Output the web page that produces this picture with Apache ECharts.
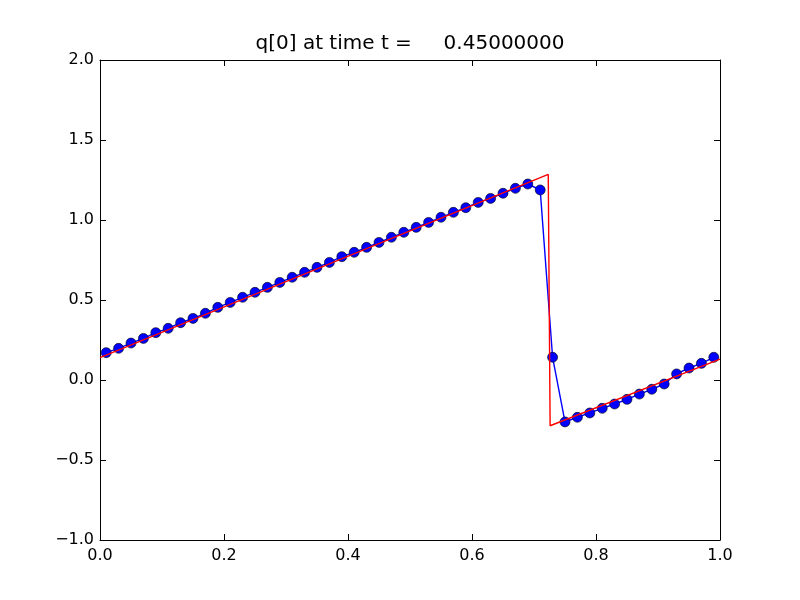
<!DOCTYPE html>
<html>
<head>
<meta charset="utf-8">
<script src="https://cdn.jsdelivr.net/npm/echarts@6/dist/echarts.min.js"></script>
<style>
  html, body { margin: 0; padding: 0; background: #fff; }
  #main { width: 800px; height: 600px; }
</style>
</head>
<body>
<div id="main"></div>
<script>
// numerical solution (cell centres)
var xs = [0.01, 0.03, 0.05, 0.07, 0.09, 0.11, 0.13, 0.15, 0.17, 0.19,
          0.21, 0.23, 0.25, 0.27, 0.29, 0.31, 0.33, 0.35, 0.37, 0.39,
          0.41, 0.43, 0.45, 0.47, 0.49, 0.51, 0.53, 0.55, 0.57, 0.59,
          0.61, 0.63, 0.65, 0.67, 0.69, 0.71, 0.73, 0.75, 0.77, 0.79,
          0.81, 0.83, 0.85, 0.87, 0.89, 0.91, 0.93, 0.95, 0.97, 0.99];
var qs = [0.171, 0.198, 0.231, 0.260, 0.296, 0.323, 0.358, 0.385, 0.417, 0.454,
          0.485, 0.517, 0.548, 0.579, 0.610, 0.642, 0.673, 0.704, 0.735, 0.771,
          0.798, 0.829, 0.860, 0.892, 0.923, 0.954, 0.985, 1.017, 1.048, 1.077,
          1.110, 1.135, 1.167, 1.198, 1.225, 1.188, 0.142, -0.262, -0.233, -0.206,
          -0.177, -0.150, -0.121, -0.088, -0.058, -0.025, 0.038, 0.075, 0.104, 0.142];

// exact solution
var exactX = [0.0, 0.723, 0.726, 1.0];
var exactQ = [0.14, 1.285, -0.286, 0.13];

var titleText = 'q[0] at time t =     0.45000000';

var numData = xs.map(function (x, i) { return [x, qs[i]]; });
var exactData = exactX.map(function (x, i) { return [x, exactQ[i]]; });

function fmt(v) {
    return v.toFixed(1).replace('-', '\u2212');
}

var font = 'DejaVu Sans';
var axisLine = { show: true, onZero: false, lineStyle: { color: '#000', width: 1 } };
var tick = { show: true, inside: true, length: 6, lineStyle: { color: '#000', width: 1 } };

var myChart = echarts.init(document.getElementById('main'));
var option = {
    backgroundColor: '#fff',
    animation: false,
    title: {
        text: titleText,
        left: 410,
        top: 34,
        padding: 0,
        textAlign: 'center',
        textStyle: { fontFamily: font, fontSize: 20, fontWeight: 'normal', color: '#000' }
    },
    grid: { left: 100, right: 80, top: 60, bottom: 60, containLabel: false },
    xAxis: [
        {
            type: 'value', min: 0, max: 1, interval: 0.2, position: 'bottom',
            axisLine: axisLine, axisTick: tick, splitLine: { show: false },
            axisLabel: { margin: 8, color: '#000', fontFamily: font, fontSize: 16, formatter: fmt }
        },
        {
            type: 'value', min: 0, max: 1, interval: 0.2, position: 'top',
            axisLine: axisLine, axisTick: tick, splitLine: { show: false },
            axisLabel: { show: false }
        }
    ],
    yAxis: [
        {
            type: 'value', min: -1, max: 2, interval: 0.5, position: 'left',
            axisLine: axisLine, axisTick: tick, splitLine: { show: false },
            axisLabel: { margin: 6, color: '#000', fontFamily: font, fontSize: 16, formatter: fmt }
        },
        {
            type: 'value', min: -1, max: 2, interval: 0.5, position: 'right',
            axisLine: axisLine, axisTick: tick, splitLine: { show: false },
            axisLabel: { show: false }
        }
    ],
    series: [
        {
            type: 'line',
            data: numData,
            symbol: 'circle',
            symbolSize: 10,
            lineStyle: { color: '#0000ff', width: 1.4 },
            itemStyle: { color: '#0000ff', borderColor: '#000', borderWidth: 0.6 },
            z: 2
        },
        {
            type: 'line',
            data: exactData,
            symbol: 'none',
            lineStyle: { color: '#ff0000', width: 1.4 },
            z: 3
        }
    ]
};
myChart.setOption(option);
</script>
</body>
</html>
